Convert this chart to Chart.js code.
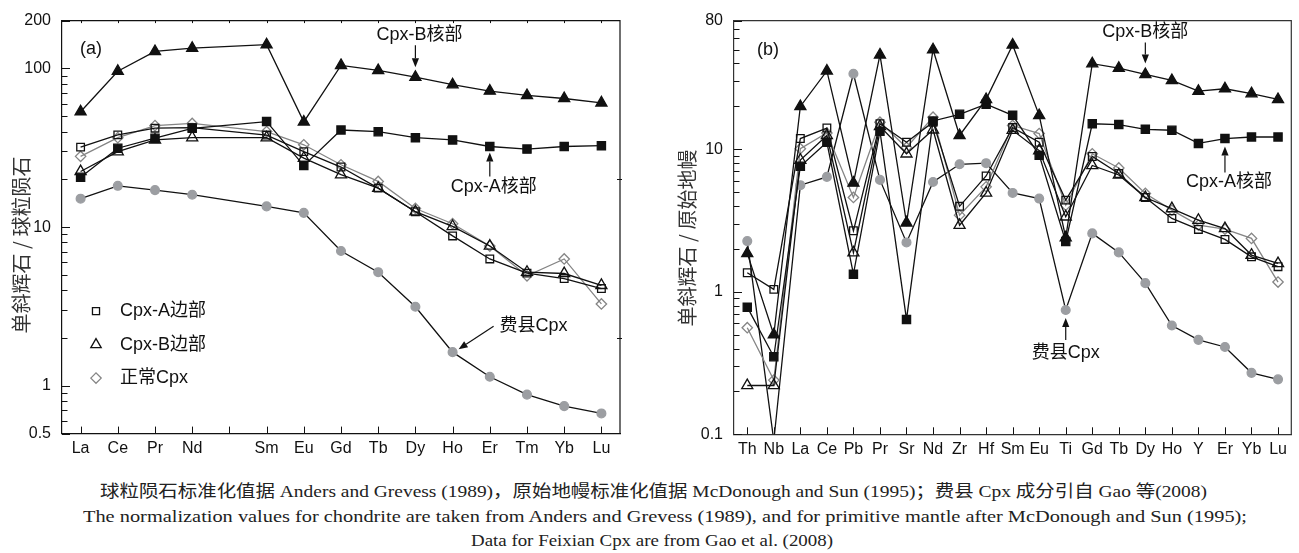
<!DOCTYPE html>
<html><head><meta charset="utf-8">
<script src="https://cdn.jsdelivr.net/npm/chart.js@4.4.1/dist/chart.umd.min.js"></script>
<style>
html,body{margin:0;padding:0;background:#fff;width:1299px;height:553px;overflow:hidden;position:relative;}
#ca{position:absolute;left:0;top:0;}
#cb{position:absolute;left:660px;top:0;}
.cap{position:absolute;white-space:nowrap;font-family:"Liberation Serif","Noto Sans CJK SC",serif;font-size:17px;line-height:20px;color:#222;transform-origin:0 50%;}
</style></head><body>
<canvas id="ca" width="640" height="470"></canvas>
<canvas id="cb" width="639" height="470"></canvas>
<span class="cap" id="cap1" data-x="100" data-w="1107" data-y="492">球粒陨石标准化值据 Anders and Grevess (1989)，原始地幔标准化值据 McDonough and Sun (1995)；费县 Cpx 成分引自 Gao 等(2008)</span>
<span class="cap" id="cap2" data-x="83" data-w="1164" data-y="517">The normalization values for chondrite are taken from Anders and Grevess (1989), and for primitive mantle after McDonough and Sun (1995);</span>
<span class="cap" id="cap3" data-x="471" data-w="362" data-y="541">Data for Feixian Cpx are from Gao et al. (2008)</span>
<script>
// ---------- DATA ----------
// Panel (a): chondrite-normalized REE (blank slot = Pm)
const catsA = ['La','Ce','Pr','Nd','','Sm','Eu','Gd','Tb','Dy','Ho','Er','Tm','Yb','Lu'];
const aCoreB   = [53.3, 96, 128, 134, null, 141, 46, 104.5, 97, 88, 79, 72, 67.5, 64.6, 60.7];
const aCoreA   = [20.6, 31.4, 36.3, 41.9, null, 46.2, 24.4, 40.9, 39.9, 36.6, 35.4, 32.2, 31.0, 32.2, 32.6];
const aRimA    = [31.9, 38.1, 42.0, 42.3, null, 38.0, 29.9, 23.9, 17.6, 12.5, 8.8, 6.3, 5.13, 4.74, 4.1];
const aRimB    = [22.4, 29.9, 35.4, 36.6, null, 36.6, 27.2, 21.4, 17.6, 12.5, 10.1, 7.6, 5.2, 5.1, 4.3];
const aNormal  = [27.9, 36.6, 43.6, 45.0, null, 40.0, 33.0, 24.7, 19.4, 13.1, 10.5, 7.6, 4.93, 6.3, 3.28];
const aFeixian = [15.1, 18.2, 17.1, 16.0, null, 13.5, 12.3, 7.07, 5.2, 3.15, 1.63, 1.14, 0.88, 0.745, 0.67];

// Panel (b): primitive-mantle-normalized trace elements
const catsB = ['Th','Nb','La','Ce','Pb','Pr','Sr','Nd','Zr','Hf','Sm','Eu','Ti','Gd','Tb','Dy','Ho','Y','Er','Yb','Lu'];
const bCoreB   = [1.86, 0.50, 20.0, 35.5, 5.8, 46, 3.05, 50, 12.5, 22.4, 54, 17.3, 2.4, 39.9, 37.1, 33.5, 30.4, 25.6, 26.6, 24.6, 22.4];
const bCoreA   = [0.78, 0.35, 7.6, 11.2, 1.33, 13.4, 0.64, 15.8, 17.6, 20.7, 17.3, 9.1, 2.25, 15.1, 14.9, 13.8, 13.6, 11.0, 11.9, 12.2, 12.2];
const bRimA    = [1.36, 1.04, 11.9, 14.1, 2.68, 15.1, 11.2, 15.5, 3.98, 6.5, 14.2, 11.2, 4.4, 8.9, 6.76, 4.59, 3.27, 2.74, 2.33, 1.76, 1.50];
const bRimB    = [0.22, 0.22, 8.4, 12.5, 1.88, 14.5, 9.3, 13.7, 2.93, 4.94, 13.6, 9.8, 3.36, 7.7, 6.6, 4.59, 3.84, 3.18, 2.78, 1.81, 1.58];
const bNormal  = [0.56, 0.24, 10.1, 13.0, 4.59, 15.5, 10.3, 16.8, 3.45, 5.45, 14.7, 12.9, 4.05, 9.3, 7.4, 4.9, 3.74, 2.94, 2.75, 2.37, 1.17];
const bFeixian = [2.27, 0.09, 5.6, 6.4, 33.9, 6.1, 2.22, 5.9, 7.85, 7.99, 4.94, 4.51, 0.745, 2.57, 1.89, 1.15, 0.58, 0.46, 0.41, 0.27, 0.243];

// Axis tick labels
const yLabelsA = [0.5, 1, 10, 100, 200];
const yLabelsB = [0.1, 1, 10, 80];
const rightTicksA = [2, 20];

const seriesNames = ['Cpx-B核部','Cpx-A核部','Cpx-A边部','Cpx-B边部','正常Cpx','费县Cpx'];

// ---------- STYLE ----------
const FONT = '"Liberation Sans", Arial, "Noto Sans CJK SC", sans-serif';
const BLACK = '#111';
const GRAYL = '#858585';
const GRAYP = '#9c9ea2';
Chart.defaults.font.family = FONT;
Chart.defaults.color = BLACK;

function logTicks(min, max) {
  const out = [];
  for (let e = -2; e <= 3; e++) {
    for (let m = 1; m <= 9; m++) {
      const v = +(m * Math.pow(10, e)).toPrecision(6);
      if (v >= min - 1e-9 && v <= max + 1e-9) out.push(v);
    }
  }
  return out;
}
const near = (a, b) => Math.abs(a - b) < 1e-9 * Math.max(1, Math.abs(b));

function mkDatasets(arrs) {
  const styles = [
    {ps:'triangle', r:6.4, fill:BLACK, stroke:BLACK, line:BLACK},
    {ps:'rect', r:5.8, fill:BLACK, stroke:BLACK, line:BLACK},
    {ps:'rect', r:5.4, fill:'rgba(255,255,255,0)', stroke:BLACK, line:BLACK},
    {ps:'triangle', r:6.4, fill:'rgba(255,255,255,0)', stroke:BLACK, line:BLACK},
    {ps:'rectRot', r:5.2, fill:'rgba(255,255,255,0)', stroke:GRAYL, line:GRAYL},
    {ps:'circle', r:4.4, fill:GRAYP, stroke:GRAYP, line:BLACK}
  ];
  return arrs.map((d, i) => ({
    label: seriesNames[i], data: d,
    borderColor: styles[i].line, borderWidth: 1.3,
    pointStyle: styles[i].ps, pointRadius: styles[i].r,
    pointBackgroundColor: styles[i].fill, pointBorderColor: styles[i].stroke,
    pointBorderWidth: 1.3, spanGaps: true, tension: 0, fill: false
  }));
}

function arrow(ctx, x1, y1, x2, y2) {
  const ang = Math.atan2(y2 - y1, x2 - x1);
  const L = 9, W = 3.6;
  const bx = x2 - Math.cos(ang) * L, by = y2 - Math.sin(ang) * L;
  ctx.beginPath(); ctx.moveTo(x1, y1); ctx.lineTo(bx, by); ctx.stroke();
  ctx.beginPath();
  ctx.moveTo(x2, y2);
  ctx.lineTo(bx + Math.sin(ang) * W, by - Math.cos(ang) * W);
  ctx.lineTo(bx - Math.sin(ang) * W, by + Math.cos(ang) * W);
  ctx.closePath(); ctx.fill();
}

function makeChart(id, cfg) {
  const canvas = document.getElementById(id);
  const H = canvas.height;
  const yTicks = logTicks(cfg.yMin, cfg.yMax);
  const deco = {
    id: 'deco' + id,
    afterDraw(chart) {
      const ctx = chart.ctx, a = chart.chartArea;
      const xs = chart.scales.x, ys = chart.scales.y;
      ctx.save();
      ctx.strokeStyle = cfg.frame; ctx.fillStyle = BLACK; ctx.lineWidth = 1.2;
      // top & right frame
      ctx.beginPath();
      ctx.moveTo(a.left, a.top); ctx.lineTo(a.right, a.top); ctx.lineTo(a.right, a.bottom);
      ctx.stroke();
      ctx.lineWidth = 1;
      ctx.strokeStyle = BLACK;
      // left ticks (inward)
      ys.ticks.forEach(t => {
        const y = Math.round(ys.getPixelForValue(t.value)) + 0.5;
        const major = cfg.yLabels.some(l => near(l, t.value));
        ctx.beginPath(); ctx.moveTo(a.left, y); ctx.lineTo(a.left + (major ? 8 : 5.5), y); ctx.stroke();
      });
      // bottom ticks (inward) and optional top ticks
      cfg.cats.forEach((c, i) => {
        const x = Math.round(xs.getPixelForValue(i)) + 0.5;
        ctx.beginPath(); ctx.moveTo(x, a.bottom); ctx.lineTo(x, a.bottom - 7); ctx.stroke();
        if (cfg.topTicks) { ctx.beginPath(); ctx.moveTo(x, a.top); ctx.lineTo(x, a.top + 2.5); ctx.stroke(); }
      });
      (cfg.rightTicks || []).forEach(v => {
        const y = Math.round(ys.getPixelForValue(v)) + 0.5;
        ctx.beginPath(); ctx.moveTo(a.right - 3, y); ctx.lineTo(a.right + 2, y); ctx.stroke();
      });
      // axis title
      ctx.save();
      ctx.translate(cfg.title.x, cfg.title.y);
      ctx.rotate(-Math.PI / 2);
      ctx.fillStyle = '#333';
      ctx.font = '20px "Noto Sans CJK SC", ' + FONT;
      ctx.textAlign = 'center'; ctx.textBaseline = 'middle';
      ctx.fillText(cfg.title.text, 0, 0);
      ctx.restore();
      // panel tag
      ctx.fillStyle = BLACK;
      ctx.font = '18px ' + FONT;
      ctx.textAlign = 'left'; ctx.textBaseline = 'middle';
      ctx.fillText(cfg.tag, a.left + cfg.tagDx, a.top + cfg.tagDy);
      // annotations anchored on data points
      ctx.lineWidth = 1.2; ctx.strokeStyle = BLACK; ctx.fillStyle = BLACK;
      cfg.notes.forEach(n => {
        const px = xs.getPixelForValue(n.idx), py = ys.getPixelForValue(n.val);
        arrow(ctx, px + n.tail[0], py + n.tail[1], px + n.tip[0], py + n.tip[1]);
        ctx.font = '18px ' + FONT;
        ctx.textAlign = n.align; ctx.textBaseline = 'middle';
        ctx.fillText(n.text, px + n.txt[0], py + n.txt[1]);
      });
      // legend
      if (cfg.legend) {
        const ds = chart.data.datasets;
        cfg.legend.forEach((L, k) => {
          const d = ds[L.ds];
          const x = a.left + 34, y = a.top + 290.5 + k * 33.5;
          ctx.lineWidth = 1.3;
          ctx.strokeStyle = d.pointBorderColor; ctx.fillStyle = d.pointBackgroundColor;
          Chart.helpers.drawPoint(ctx, {pointStyle: d.pointStyle, radius: L.r, rotation: 0, borderWidth: 1.3}, x, y);
          ctx.fillStyle = BLACK;
          ctx.font = '18px ' + FONT;
          ctx.textAlign = 'left'; ctx.textBaseline = 'middle';
          ctx.fillText(d.label, x + 24, y);
        });
      }
      ctx.restore();
    }
  };
  return new Chart(canvas, {
    type: 'line',
    data: { labels: cfg.cats, datasets: mkDatasets(cfg.series) },
    options: {
      responsive: false, animation: false,
      layout: { padding: { left: 0, top: cfg.top, right: cfg.right, bottom: 0 } },
      plugins: { legend: { display: false }, tooltip: { enabled: false } },
      scales: {
        x: {
          type: 'category', offset: true,
          grid: { display: false, drawTicks: false },
          border: { display: true, color: cfg.frame, width: 1.2 },
          ticks: { autoSkip: false, maxRotation: 0, padding: cfg.xPad, font: { size: cfg.xFont }, color: BLACK },
          afterFit: s => { s.height = H - cfg.bottom; }
        },
        y: {
          type: 'logarithmic', min: cfg.yMin, max: cfg.yMax,
          grid: { display: false, drawTicks: false },
          border: { display: true, color: cfg.frame, width: 1.2 },
          afterBuildTicks: s => { s.ticks = yTicks.map(v => ({ value: v })); },
          ticks: {
            autoSkip: false, padding: cfg.yPad, font: { size: 16 }, color: BLACK,
            callback: v => cfg.yLabels.some(l => near(l, v)) ? String(v) : ''
          },
          afterFit: s => { s.width = cfg.left; }
        }
      }
    },
    plugins: [deco]
  });
}

makeChart('ca', {
  cats: catsA,
  series: [aCoreB, aCoreA, aRimA, aRimB, aNormal, aFeixian],
  yMin: 0.5, yMax: 200, yLabels: yLabelsA,
  left: 62, top: 19, right: 20, bottom: 433.6,
  xPad: 5, yPad: 11, xFont: 16, frame: BLACK,
  topTicks: true, rightTicks: rightTicksA,
  title: { x: 21, y: 245, text: '单斜辉石 / 球粒陨石' },
  tag: '(a)', tagDx: 18, tagDy: 28,
  notes: [
    { idx: 9, val: aCoreB[9], tail: [0, -32], tip: [0, -10], txt: [4, -42], align: 'center', text: 'Cpx-B核部' },
    { idx: 11, val: aCoreA[11], tail: [0, 30], tip: [0, 6], txt: [4, 41], align: 'center', text: 'Cpx-A核部' },
    { idx: 10, val: aFeixian[10], tail: [41, -26], tip: [6, -3], txt: [47, -26], align: 'left', text: '费县Cpx' }
  ],
  legend: [ { ds: 2, r: 5 }, { ds: 3, r: 6 }, { ds: 4, r: 5.2 } ]
});

makeChart('cb', {
  cats: catsB,
  series: [bCoreB, bCoreA, bRimA, bRimB, bNormal, bFeixian],
  yMin: 0.1, yMax: 80, yLabels: yLabelsB,
  left: 74, top: 20, right: 5.7, bottom: 434.3,
  xPad: 6, yPad: 11, xFont: 16, frame: '#333',
  topTicks: false, rightTicks: [],
  title: { x: 27, y: 238, text: '单斜辉石 / 原始地幔' },
  tag: '(b)', tagDx: 23, tagDy: 29,
  notes: [
    { idx: 15, val: bCoreB[15], tail: [0, -32], tip: [0, -11], txt: [0, -42], align: 'center', text: 'Cpx-B核部' },
    { idx: 18, val: bCoreA[18], tail: [0, 34], tip: [0, 8], txt: [4, 44], align: 'center', text: 'Cpx-A核部' },
    { idx: 12, val: bFeixian[12], tail: [0, 30], tip: [0, 8], txt: [0, 43], align: 'center', text: '费县Cpx' }
  ]
});

// captions: fit each line to its measured span
document.querySelectorAll('.cap').forEach(el => {
  const w = el.getBoundingClientRect().width;
  const tx = +el.dataset.x, tw = +el.dataset.w, ty = +el.dataset.y;
  el.style.left = tx + 'px';
  el.style.top = (ty - 10) + 'px';
  el.style.transform = 'scaleX(' + (tw / w) + ')';
});
</script>
</body></html>
